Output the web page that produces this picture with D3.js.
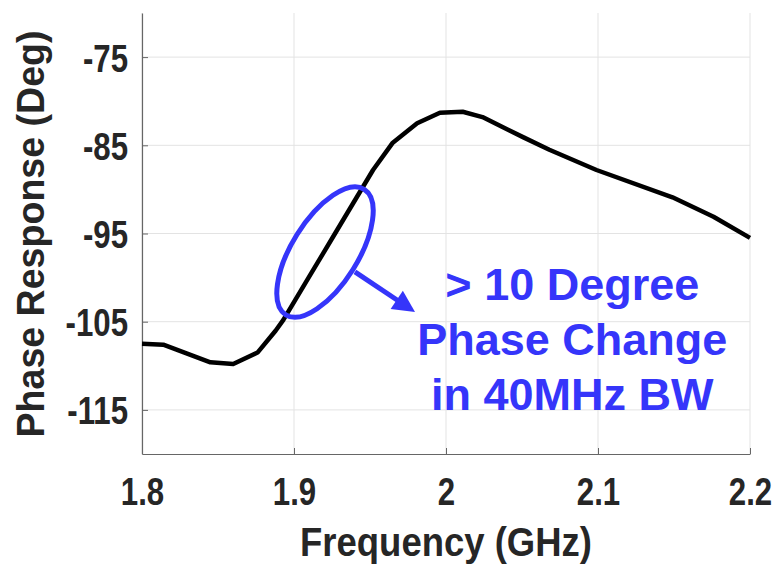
<!DOCTYPE html>
<html>
<head>
    <meta charset="utf-8">
    <script src="https://d3js.org/d3.v7.min.js"></script>
    <style type="text/css">
        body { margin: 0; background: #fff; }
        .tick text {
            font-family: "Liberation Sans", Arial, sans-serif;
            font-weight: bold;
            font-size: 39px;
            fill: #262626;
        }
        .label {
            font-family: "Liberation Sans", Arial, sans-serif;
            font-weight: bold;
            fill: #262626;
        }
        .grid line { stroke: #e3e3e3; stroke-width: 1; }
        .note {
            font-family: "Liberation Sans", Arial, sans-serif;
            font-weight: bold;
            font-size: 45px;
            fill: #3535fa;
        }
    </style>
</head>
<body>
<div id="chart"></div>
<script>
    // phase response
    const freq = [1.800, 1.814, 1.845, 1.860, 1.876, 1.888, 1.893, 1.910, 1.927, 1.952, 1.965,
                  1.981, 1.996, 2.011, 2.024, 2.051, 2.068, 2.099, 2.149, 2.176, 2.200];
    const phase = [-107.5, -107.6, -109.6, -109.8, -108.5, -106.0, -104.8, -99.9, -95.0, -87.8, -84.7,
                   -82.5, -81.3, -81.2, -81.8, -84.1, -85.5, -87.8, -90.9, -93.1, -95.5];
    const xTicks = [1.8, 1.9, 2.0, 2.1, 2.2];
    const yTicks = [-75, -85, -95, -105, -115];
    const noteLines = ["> 10 Degree", "Phase Change", "in 40MHz BW"];

    const data = freq.map((f, i) => ({ f: f, p: phase[i] }));

    const W = 776, H = 564;
    const margin = { top: 13, right: 26, bottom: 110, left: 142 },
        width = W - margin.left - margin.right,
        height = H - margin.top - margin.bottom;

    const svg = d3.select("#chart").append("svg")
        .attr("width", W).attr("height", H);
    const g = svg.append("g")
        .attr("transform", `translate(${margin.left},${margin.top})`);

    const x = d3.scaleLinear().domain([1.8, 2.2]).range([0, width]);
    const y = d3.scaleLinear().domain([-120, -70]).range([height, 0]);

    // grid
    g.append("g").attr("class", "grid")
        .selectAll("line").data(xTicks).join("line")
        .attr("x1", d => x(d)).attr("x2", d => x(d))
        .attr("y1", 0).attr("y2", height);
    g.append("g").attr("class", "grid")
        .selectAll("line").data(yTicks).join("line")
        .attr("x1", 0).attr("x2", width)
        .attr("y1", d => y(d)).attr("y2", d => y(d));

    // axes (plain hyphen for minus, like the original)
    const xAxis = g.append("g")
        .attr("transform", `translate(0,${height})`)
        .call(d3.axisBottom(x).tickValues(xTicks).tickFormat(d => String(d)).tickSizeInner(-6).tickSizeOuter(0));
    const yAxis = g.append("g")
        .call(d3.axisLeft(y).tickValues(yTicks).tickFormat(d => String(d)).tickSizeInner(-6).tickSizeOuter(0).tickPadding(14));
    [xAxis, yAxis].forEach(a => {
        a.select(".domain").attr("stroke", "#666").attr("stroke-width", 1.2);
        a.selectAll(".tick line").attr("stroke", "#666");
        // condensed look of the original labels
        a.selectAll(".tick text").each(function () {
            d3.select(this).attr("textLength", this.getComputedTextLength() * 0.8)
                .attr("lengthAdjust", "spacingAndGlyphs");
        });
    });
    xAxis.selectAll(".tick text").attr("y", 51).attr("dy", 0);
    yAxis.selectAll(".tick text").attr("dy", "0.36em");

    // the curve
    g.append("path")
        .datum(data)
        .attr("fill", "none")
        .attr("stroke", "#000")
        .attr("stroke-width", 4.5)
        .attr("stroke-linejoin", "round")
        .attr("d", d3.line().x(d => x(d.f)).y(d => y(d.p)));

    // axis titles
    svg.append("text").attr("class", "label")
        .attr("text-anchor", "middle")
        .attr("x", margin.left + x(2.0)).attr("y", 556)
        .attr("font-size", 41)
        .attr("textLength", 292).attr("lengthAdjust", "spacingAndGlyphs")
        .text("Frequency (GHz)");
    svg.append("text").attr("class", "label")
        .attr("text-anchor", "middle")
        .attr("transform", "translate(44,234) rotate(-90)")
        .attr("font-size", 39)
        .attr("textLength", 407).attr("lengthAdjust", "spacingAndGlyphs")
        .text("Phase Response (Deg)");

    // annotation: ellipse around the steep part, arrow, note
    const blue = "#3535fa";
    g.append("ellipse")
        .attr("transform", `translate(${x(1.9204)},${y(-97.1)}) rotate(32)`)
        .attr("rx", 33).attr("ry", 74)
        .attr("fill", "none").attr("stroke", blue).attr("stroke-width", 5);

    svg.append("defs").append("marker")
        .attr("id", "head").attr("viewBox", "0 0 10 10")
        .attr("refX", 2).attr("refY", 5)
        .attr("markerWidth", 5).attr("markerHeight", 4.4)
        .attr("markerUnits", "strokeWidth")
        .attr("orient", "auto")
        .append("path").attr("d", "M0,0 L10,5 L0,10 Z").attr("fill", blue);

    g.append("line")
        .attr("x1", x(1.9401)).attr("y1", y(-99.35))
        .attr("x2", x(1.9700)).attr("y2", y(-102.8))
        .attr("stroke", blue).attr("stroke-width", 5)
        .attr("marker-end", "url(#head)");

    g.append("text").attr("class", "note")
        .attr("text-anchor", "middle")
        .selectAll("tspan").data(noteLines).join("tspan")
        .attr("x", x(2.0831))
        .attr("y", (d, i) => y(-102.5) + i * 55)
        .text(d => d);
</script>
</body>
</html>
